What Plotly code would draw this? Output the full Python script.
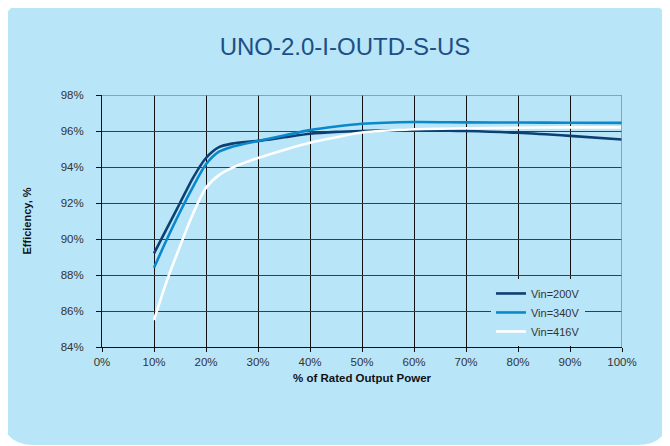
import plotly.graph_objects as go

# Data
load_pct = [10, 12.5, 15, 17.5, 20, 22.5, 25, 30, 35, 40, 45, 50, 60, 70, 80, 90, 100]
eff_200 = [89.2, 90.6, 92.0, 93.4, 94.5, 95.1, 95.3, 95.45, 95.65, 95.85, 95.95, 96.0, 96.05, 96.0, 95.9, 95.73, 95.53]
eff_340 = [88.4, 90.0, 91.5, 92.9, 94.15, 94.85, 95.12, 95.45, 95.75, 96.05, 96.25, 96.4, 96.5, 96.48, 96.47, 96.46, 96.45]
eff_416 = [85.5, 87.7, 89.6, 91.4, 92.85, 93.55, 93.95, 94.5, 94.95, 95.35, 95.65, 95.92, 96.1, 96.15, 96.18, 96.2, 96.2]

series_names = ["Vin=200V", "Vin=340V", "Vin=416V"]
x_ticks = [0, 10, 20, 30, 40, 50, 60, 70, 80, 90, 100]
x_tick_labels = ["0%", "10%", "20%", "30%", "40%", "50%", "60%", "70%", "80%", "90%", "100%"]
y_ticks = [84, 86, 88, 90, 92, 94, 96, 98]
y_tick_labels = ["84%", "86%", "88%", "90%", "92%", "94%", "96%", "98%"]

BG = "#b9e5f9"
colors = ["#0c3f72", "#0a88cc", "#ffffff"]

fig = go.Figure()
for name, ys, c in zip(series_names, [eff_200, eff_340, eff_416], colors):
    fig.add_trace(go.Scatter(
        x=load_pct, y=ys, name=name, mode="lines",
        line=dict(color=c, width=2.6, shape="spline", smoothing=0.8),
    ))

W, H = 670, 446
OFF = 8              # page body margin
ML, MT, PW, PH = 94, 87, 520, 252

# rounded background panel, screen coords -> paper coords of plot area
def px(X): return (X - OFF - ML) / PW
def py(Y): return (MT + PH - (Y - OFF)) / PH
x0, y0, x1, y1, r = 2, 1, 669, 445, 32
path = (f"M {px(x0+r)},{py(y0)} L {px(x1-r)},{py(y0)} "
        f"Q {px(x1)},{py(y0)} {px(x1)},{py(y0+r)} "
        f"L {px(x1)},{py(y1-r)} Q {px(x1)},{py(y1)} {px(x1-r)},{py(y1)} "
        f"L {px(x0+r)},{py(y1)} Q {px(x0)},{py(y1)} {px(x0)},{py(y1-r)} "
        f"L {px(x0)},{py(y0+r)} Q {px(x0)},{py(y0)} {px(x0+r)},{py(y0)} Z")

fig.update_layout(
    width=W, height=H,
    margin=dict(l=ML, r=W - ML - PW, t=MT, b=H - MT - PH),
    paper_bgcolor="white",
    plot_bgcolor=BG,
    shapes=[dict(type="path", path=path, xref="paper", yref="paper",
                 fillcolor=BG, line=dict(width=0), layer="below")],
    title=dict(text="UNO-2.0-I-OUTD-S-US", x=(345 - OFF) / W, xanchor="center",
               y=1 - (47 - OFF) / H, yanchor="middle",
               font=dict(family="Liberation Sans, Arial", size=24, color="#1c4f85")),
    font=dict(family="Liberation Sans, Arial", size=11.5, color="#333333"),
    showlegend=True,
    legend=dict(x=0.748, y=0.27, xanchor="left", yanchor="top",
                bgcolor=BG, borderwidth=0, font=dict(size=11, color="#333333"),
                itemwidth=30, tracegroupgap=0),
    xaxis=dict(range=[0, 100], tickvals=x_ticks, ticktext=x_tick_labels,
               showgrid=True, gridcolor="#111111", gridwidth=1.2,
               showline=True, linecolor="#111111", linewidth=1, mirror=False,
               ticks="outside", ticklen=4, tickcolor="#111111",
               title=dict(text="<b>% of Rated Output Power</b>", standoff=7,
                          font=dict(size=11.5, color="#111111")),
               zeroline=False, fixedrange=True),
    yaxis=dict(range=[84, 98], tickvals=y_ticks, ticktext=y_tick_labels,
               showgrid=True, gridcolor="#3d3d3d", gridwidth=1.2,
               showline=True, linecolor="#111111", linewidth=1,
               ticks="outside", ticklen=5, tickcolor="#111111",
               ticklabelstandoff=10,
               title=dict(text="<b>Efficiency, %</b>", standoff=26,
                          font=dict(size=11, color="#111111")),
               zeroline=False, fixedrange=True),
)
# top and right border in grey
fig.add_shape(type="line", xref="x", yref="y", x0=0, x1=100, y0=98, y1=98,
              line=dict(color="#888888", width=1.5))
fig.add_shape(type="line", xref="x", yref="y", x0=100, x1=100, y0=84, y1=98,
              line=dict(color="#888888", width=1.5))

fig.write_html("out.html")
